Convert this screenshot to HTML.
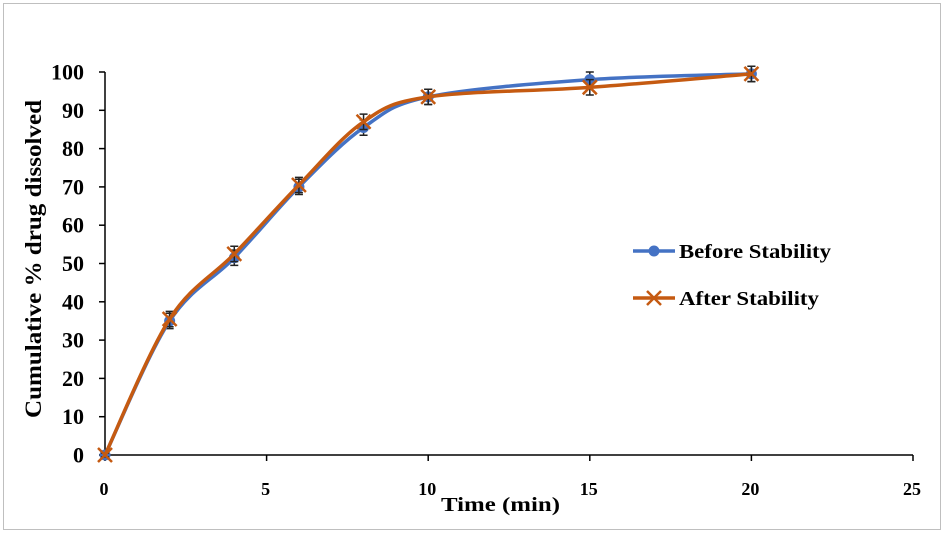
<!DOCTYPE html>
<html><head><meta charset="utf-8"><style>
html,body{margin:0;padding:0;background:#fff;}
svg{display:block;font-family:"Liberation Serif",serif;font-weight:bold;}
</style></head><body>
<svg id="chart" width="946" height="534">
<rect x="3.5" y="3.5" width="937" height="526" fill="#fff" stroke="#bfbfbf"/>
<g id="axes"></g>
<g id="series"></g>
<text x="441" y="511" font-size="20" textLength="119" lengthAdjust="spacingAndGlyphs">Time (min)</text>
<text transform="translate(41,259) rotate(-90)" font-size="23" text-anchor="middle" textLength="318" lengthAdjust="spacingAndGlyphs">Cumulative % drug dissolved</text>
<g>
<g>
<line x1="633" y1="251" x2="675" y2="251" stroke="#4472C4" stroke-width="3.5"/>
<circle cx="654" cy="251" r="5.5" fill="#4472C4"/>
<text x="679" y="258" font-size="20" textLength="152" lengthAdjust="spacingAndGlyphs">Before Stability</text></g>
<g>
<line x1="633" y1="298" x2="675" y2="298" stroke="#C55A11" stroke-width="3.5"/>
<path d="M647,291 L661,305 M661,291 L647,305" stroke="#C55A11" stroke-width="2.5"/>
<text x="679" y="305" font-size="20" textLength="140" lengthAdjust="spacingAndGlyphs">After Stability</text></g>
</g>
</svg>
<script>
const times=[0,2,4,6,8,10,15,20];
const beforeVals=[0,35,51.5,70,85.5,93.5,98,99.5];
const afterVals=[0,35.5,52.5,70.5,87,93.5,96,99.5];
const errVals=[0.5,2,2,2,2,2,2,2];
const xTicks=[0,5,10,15,20,25];
const yTicks=[0,10,20,30,40,50,60,70,80,90,100];
const NS="http://www.w3.org/2000/svg";
const X=v=>105+v*(913-105)/25;
const Y=v=>455-v*(455-72)/100;
function mk(tag,attrs,parent){const e=document.createElementNS(NS,tag);for(const k in attrs)e.setAttribute(k,attrs[k]);parent.appendChild(e);return e;}
const axes=document.getElementById('axes');
let a=mk('line',{x1:105,y1:72,x2:105,y2:455,stroke:'#000','stroke-width':1.5},axes);


a=mk('line',{x1:105,y1:455,x2:913,y2:455,stroke:'#000','stroke-width':1.5},axes);


yTicks.forEach(t=>{mk('line',{x1:99,y1:Y(t),x2:105,y2:Y(t),stroke:'#000','stroke-width':1.5},axes);
const tx=mk('text',{x:84,y:Y(t)+7.5,'font-size':22,'text-anchor':'end'},axes);tx.textContent=t;

});
xTicks.forEach(t=>{mk('line',{x1:X(t),y1:455,x2:X(t),y2:461,stroke:'#000','stroke-width':1.5},axes);
const tx=mk('text',{x:X(t)-1,y:495,'font-size':18,'text-anchor':'middle'},axes);tx.textContent=t;

});
function smooth(vals){const p=times.map((t,i)=>[X(t),Y(vals[i])]);let d=`M${p[0][0]},${p[0][1]}`;
for(let i=0;i<p.length-1;i++){const p0=p[Math.max(0,i-1)],p1=p[i],p2=p[i+1],p3=p[Math.min(p.length-1,i+2)];const k=1/6;
d+=` C${p1[0]+(p2[0]-p0[0])*k},${p1[1]+(p2[1]-p0[1])*k} ${p2[0]-(p3[0]-p1[0])*k},${p2[1]-(p3[1]-p1[1])*k} ${p2[0]},${p2[1]}`;}return d;}
const sg=document.getElementById('series');
function draw(vals,color,name,marker){
const g=mk('g',{},sg);
times.forEach((t,i)=>{const x=X(t),y1=Y(vals[i]+errVals[i]),y2=Y(vals[i]-errVals[i]);
mk('path',{d:`M${x},${y1} L${x},${y2} M${x-4},${y1} L${x+4},${y1} M${x-4},${y2} L${x+4},${y2}`,stroke:'#222','stroke-width':1.5,fill:'none'},g);});
const l=mk('path',{d:smooth(vals),stroke:color,'stroke-width':3.5,fill:'none'},g);


times.forEach((t,i)=>{const x=X(t),y=Y(vals[i]);let m;
if(marker==='circle')m=mk('circle',{cx:x,cy:y,r:5.5,fill:color},g);
else m=mk('path',{d:`M${x-7},${y-7} L${x+7},${y+7} M${x+7},${y-7} L${x-7},${y+7}`,stroke:color,'stroke-width':2.5},g);

});}
draw(beforeVals,'#4472C4','before-stability-series','circle');
draw(afterVals,'#C55A11','after-stability-series','x');
</script>
</body></html>
